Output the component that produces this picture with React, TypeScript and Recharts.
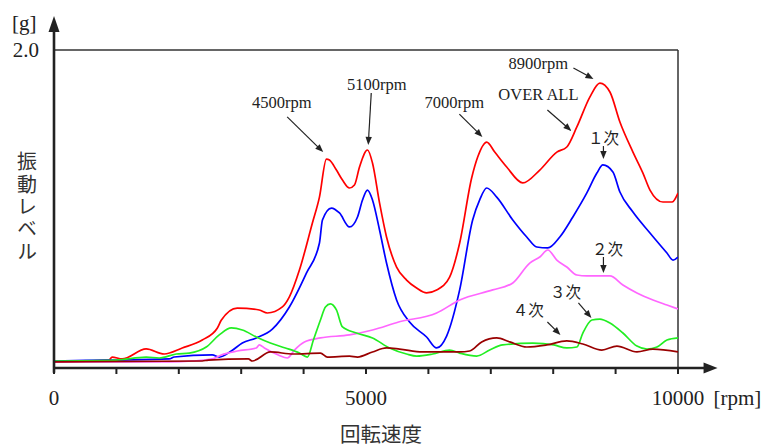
import React from 'react';
import { LineChart, Line, XAxis, YAxis, ReferenceLine, ReferenceDot } from 'recharts';

const SERIF = '"Liberation Serif", "Times New Roman", serif';
const SANS_JP = '"Noto Sans CJK JP", "Noto Sans", sans-serif';
const INK = '#222222';

// ---- data (rpm, g) ----
const overallRpm = [0, 883, 931, 1091, 1477, 1766, 2055, 2376, 2616, 2680, 2937, 3290, 3419, 3660, 3772, 3933, 4141, 4254, 4366, 4414, 4526, 4623, 4735, 4815, 4896, 5024, 5104, 5217, 5329, 5490, 5650, 5811, 5971, 6132, 6340, 6501, 6693, 6790, 6934, 7063, 7255, 7512, 7785, 8058, 8218, 8379, 8587, 8748, 8909, 9069, 9278, 9438, 9551, 9759, 9904, 10000];
const overallG = [0.038, 0.05, 0.069, 0.057, 0.12, 0.088, 0.126, 0.176, 0.25, 0.30, 0.377, 0.365, 0.346, 0.384, 0.447, 0.616, 0.912, 1.075, 1.314, 1.308, 1.245, 1.182, 1.132, 1.151, 1.264, 1.371, 1.289, 1.038, 0.824, 0.635, 0.553, 0.503, 0.472, 0.49, 0.572, 0.786, 1.195, 1.327, 1.421, 1.358, 1.264, 1.164, 1.245, 1.358, 1.39, 1.516, 1.704, 1.792, 1.736, 1.547, 1.358, 1.226, 1.119, 1.044, 1.044, 1.10];

const order1Rpm = [0, 883, 1846, 1926, 2536, 2648, 2841, 3018, 3242, 3499, 3772, 4045, 4254, 4302, 4446, 4575, 4735, 4864, 4944, 5024, 5104, 5217, 5329, 5490, 5698, 5971, 6132, 6292, 6501, 6709, 6822, 6934, 7095, 7352, 7576, 7737, 7913, 8106, 8315, 8539, 8700, 8796, 8957, 9069, 9278, 9551, 9823, 9920, 10000];
const order1G = [0.044, 0.05, 0.057, 0.069, 0.082, 0.069, 0.107, 0.157, 0.189, 0.245, 0.384, 0.597, 0.786, 0.931, 1.006, 0.975, 0.887, 0.950, 1.057, 1.119, 1.057, 0.868, 0.660, 0.428, 0.289, 0.195, 0.126, 0.201, 0.491, 0.931, 1.057, 1.132, 1.075, 0.931, 0.824, 0.761, 0.755, 0.824, 0.950, 1.101, 1.226, 1.277, 1.233, 1.107, 0.981, 0.849, 0.723, 0.679, 0.698];

const order2Rpm = [0, 1846, 2215, 2536, 2680, 2937, 3242, 3290, 3371, 3595, 3740, 3853, 4013, 4270, 4735, 5104, 5522, 6132, 6501, 7031, 7352, 7624, 7785, 7913, 8058, 8218, 8379, 8539, 8909, 9117, 9342, 9599, 9823, 10000];
const order2G = [0.038, 0.038, 0.044, 0.057, 0.082, 0.107, 0.126, 0.145, 0.126, 0.082, 0.063, 0.113, 0.164, 0.189, 0.208, 0.239, 0.289, 0.346, 0.428, 0.491, 0.535, 0.660, 0.698, 0.742, 0.679, 0.635, 0.585, 0.579, 0.579, 0.522, 0.472, 0.428, 0.396, 0.371];

const order3Rpm = [0, 995, 1477, 1686, 1958, 2167, 2440, 2648, 2841, 3018, 3242, 3467, 3708, 3933, 4061, 4157, 4270, 4350, 4430, 4526, 4623, 4847, 5104, 5377, 5650, 5811, 6068, 6340, 6501, 6774, 6982, 7191, 7673, 8010, 8218, 8379, 8475, 8620, 8748, 8909, 9117, 9342, 9502, 9663, 9823, 10000];
const order3G = [0.044, 0.05, 0.069, 0.063, 0.088, 0.094, 0.132, 0.208, 0.252, 0.239, 0.195, 0.157, 0.126, 0.094, 0.069, 0.176, 0.302, 0.384, 0.403, 0.365, 0.258, 0.220, 0.189, 0.126, 0.088, 0.075, 0.088, 0.113, 0.094, 0.075, 0.113, 0.145, 0.157, 0.145, 0.126, 0.132, 0.220, 0.302, 0.308, 0.283, 0.220, 0.138, 0.119, 0.132, 0.176, 0.189];

const order4Rpm = [0, 2376, 2472, 3114, 3178, 3467, 3837, 4270, 4382, 4735, 4864, 5104, 5329, 5538, 5906, 6501, 6661, 6854, 7095, 7303, 7576, 7897, 8218, 8475, 8780, 9021, 9342, 9599, 10000];
const order4G = [0.038, 0.044, 0.05, 0.057, 0.044, 0.101, 0.088, 0.094, 0.069, 0.075, 0.069, 0.101, 0.126, 0.119, 0.101, 0.101, 0.107, 0.164, 0.189, 0.164, 0.132, 0.145, 0.170, 0.151, 0.113, 0.138, 0.101, 0.119, 0.101];

const xTicks = [0, 1000, 2000, 3000, 4000, 5000, 6000, 7000, 8000, 9000, 10000];
const xTickLabels = [0, 5000, 10000];
const yTicks = [2];

const xTitle = '回転速度';
const yTitle = '振動レベル';
const xUnit = '[rpm]';
const yUnit = '[g]';

// annotation texts (label, rpm, g)
const noteTexts = ['4500rpm', '5100rpm', '7000rpm', '8900rpm', 'OVER ALL', '１次', '２次', '３次', '４次'];
const noteRpm = [3649, 5172, 6415, 7763, 7763, 8805, 8869, 8196, 7602];
const noteG = [1.667, 1.78, 1.667, 1.912, 1.717, 1.453, 0.755, 0.484, 0.371];

// annotation arrows: tail -> tip
const arrowFromRpm = [3737, 5084, 6496, 8324, 7907, 8805, 8805, 8404, 7907];
const arrowFromG = [1.579, 1.730, 1.597, 1.887, 1.623, 1.396, 0.698, 0.409, 0.289];
const arrowToRpm = [4314, 5036, 6865, 8645, 8292, 8805, 8805, 8613, 8116];
const arrowToG = [1.358, 1.403, 1.453, 1.818, 1.491, 1.314, 0.597, 0.314, 0.208];

const zip = (xs: number[], ys: number[]) => xs.map((rpm, i) => ({ rpm, g: ys[i] }));

const series = [
  { key: 'overall', data: zip(overallRpm, overallG), color: '#ff0000' },
  { key: 'o1', data: zip(order1Rpm, order1G), color: '#0000ff' },
  { key: 'o2', data: zip(order2Rpm, order2G), color: '#ff66ff' },
  { key: 'o3', data: zip(order3Rpm, order3G), color: '#22ee22' },
  { key: 'o4', data: zip(order4Rpm, order4G), color: '#990000' },
];

const makeArrow = (w: number, head: number, half: number) => (p: any) => {
  const { x1, y1, x2, y2 } = p;
  const dx = x2 - x1;
  const dy = y2 - y1;
  const len = Math.hypot(dx, dy) || 1;
  const ux = dx / len;
  const uy = dy / len;
  const bx = x2 - ux * head;
  const by = y2 - uy * head;
  const px = -uy * half;
  const py = ux * half;
  return (
    <g>
      <line x1={x1} y1={y1} x2={bx + ux * 0.5} y2={by + uy * 0.5} stroke={INK} strokeWidth={w} />
      <polygon points={`${x2},${y2} ${bx + px},${by + py} ${bx - px},${by - py}`} fill={INK} />
    </g>
  );
};

const textShape = (text: string, font: string, size: number, anchor: string = 'middle') => (p: any) => (
  <text
    x={p.cx}
    y={p.cy}
    textAnchor={anchor}
    dominantBaseline="central"
    fontFamily={font}
    fontSize={size}
    fill={INK}
  >
    {text}
  </text>
);

const isJP = (s: string) => /[^\x00-\x7f]/.test(s);

const YTitle = (props: any) => {
  const vb = props.viewBox || { x: 0, y: 50, width: 54, height: 318 };
  const cx = vb.x + 27;
  const cy = vb.y + vb.height / 2 - 1.5;
  return (
    <text
      x={cx}
      y={cy}
      fontFamily={SANS_JP}
      fontSize={20}
      fill="#333"
      textAnchor="middle"
      style={{ writingMode: 'vertical-rl', letterSpacing: '2.3px' } as any}
    >
      {yTitle}
    </text>
  );
};

const XTitle = (props: any) => {
  const vb = props.viewBox || { x: 54, y: 368, width: 624, height: 79 };
  return (
    <text
      x={vb.x + vb.width / 2 + 15}
      y={vb.y + 64.5}
      fontFamily={SANS_JP}
      fontSize={20.5}
      fill="#333"
      textAnchor="middle"
      dominantBaseline="central"
    >
      {xTitle}
    </text>
  );
};

export default function App() {
  return (
    <div style={{ position: 'absolute', left: 0, top: 0, width: 765, height: 447, background: '#fff' }}>
      <LineChart width={765} height={447} margin={{ top: 50, right: 87, bottom: 0, left: 0 }}>
        <XAxis
          type="number"
          dataKey="rpm"
          domain={[0, 10000]}
          allowDataOverflow
          ticks={xTicks}
          interval={0}
          tickFormatter={(v: number) => (xTickLabels.includes(v) ? String(v) : '')}
          axisLine={false}
          tickLine={{ stroke: INK, strokeWidth: 2 }}
          tickSize={6}
          tickMargin={16}
          tick={{ fontFamily: SERIF, fontSize: 21, fill: INK }}
          height={79}
          label={{ content: (p: any) => <XTitle {...p} /> }}
        />
        <YAxis
          type="number"
          domain={[0, 2]}
          allowDataOverflow
          ticks={yTicks}
          interval={0}
          tickFormatter={(v: number) => v.toFixed(1)}
          axisLine={false}
          tickLine={false}
          tickSize={0}
          tickMargin={15}
          tick={{ fontFamily: SERIF, fontSize: 21, fill: INK }}
          width={54}
          label={{ content: (p: any) => <YTitle {...p} /> }}
        />
        {/* frame */}
        <ReferenceLine y={2} stroke="#333" strokeWidth={1.5} ifOverflow="visible" />
        <ReferenceLine x={10000} stroke="#333" strokeWidth={1.5} ifOverflow="visible" />

        {series.map((s) => (
          <Line
            key={s.key}
            data={s.data}
            dataKey="g"
            type="monotone"
            stroke={s.color}
            strokeWidth={1.7}
            dot={false}
            activeDot={false}
            isAnimationActive={false}
          />
        ))}

        {/* axes with arrowheads */}
        <ReferenceLine
          segment={[{ x: 0, y: -0.03 }, { x: 0, y: 2.214 }]}
          ifOverflow="visible"
          shape={makeArrow(2.6, 16, 5.5)}
        />
        <ReferenceLine
          segment={[{ x: 0, y: 0 }, { x: 10634, y: 0 }]}
          ifOverflow="visible"
          shape={makeArrow(2.6, 14, 5.5)}
        />

        {/* unit labels */}
        <ReferenceDot x={-674} y={2.17} ifOverflow="visible" shape={textShape(yUnit, SERIF, 21, 'start')} />
        <ReferenceDot x={10569} y={-0.19} ifOverflow="visible" shape={textShape(xUnit, SERIF, 21, 'start')} />

        {/* annotation arrows */}
        {arrowFromRpm.map((r, i) => (
          <ReferenceLine
            key={`a${i}`}
            segment={[{ x: r, y: arrowFromG[i] }, { x: arrowToRpm[i], y: arrowToG[i] }]}
            ifOverflow="visible"
            shape={makeArrow(1.2, 8, 3.2)}
          />
        ))}

        {/* annotation texts */}
        {noteTexts.map((t, i) => (
          <ReferenceDot
            key={`t${i}`}
            x={noteRpm[i]}
            y={noteG[i]}
            ifOverflow="visible"
            shape={isJP(t) ? textShape(t, SANS_JP, 15.5) : textShape(t, SERIF, 16.5)}
          />
        ))}
      </LineChart>
    </div>
  );
}
